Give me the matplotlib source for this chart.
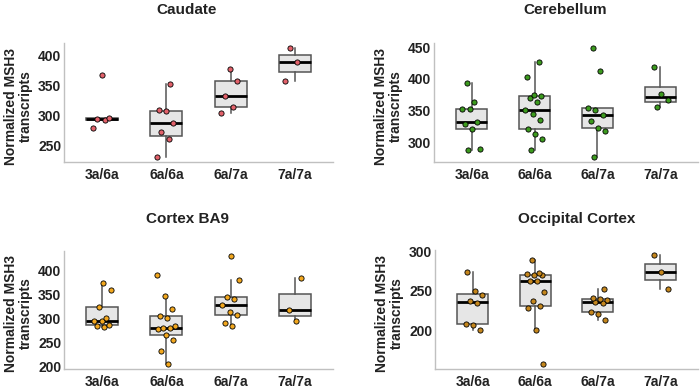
import numpy as np
import matplotlib
matplotlib.use("Agg")
import matplotlib.pyplot as plt

plt.rcParams['font.family'] = ['Liberation Sans', 'DejaVu Sans']
plt.rcParams['font.weight'] = 'bold'

genotypes = ["3a/6a", "6a/6a", "6a/7a", "7a/7a"]

# values, one list per genotype
caudate = [
    [278, 292, 294, 296, 367],
    [231, 260, 272, 287, 307, 308, 352],
    [304, 314, 331, 357, 376],
    [356, 389, 411],
]
cerebellum = [
    [288, 289, 321, 329, 332, 352, 353, 363, 394],
    [288, 305, 312, 321, 335, 344, 351, 364, 369, 373, 375, 403, 426],
    [277, 318, 322, 334, 343, 350, 354, 413, 448],
    [355, 366, 376, 418],
]
cortex_ba9 = [
    [282, 283, 285, 293, 295, 300, 324, 359, 374],
    [205, 231, 254, 264, 277, 279, 280, 284, 300, 304, 320, 347, 391],
    [284, 290, 306, 313, 328, 340, 345, 380, 429],
    [294, 316, 383],
]
occipital = [
    [201, 207, 208, 235, 237, 245, 250, 274],
    [158, 201, 229, 231, 237, 249, 263, 263, 270, 270, 271, 273, 289],
    [213, 221, 223, 235, 236, 239, 240, 241, 252],
    [253, 274, 295],
]

panels = [
    ("Caudate", caudate, "#e2616a", [250, 300, 350, 400]),
    ("Cerebellum", cerebellum, "#3c9a1e", [300, 350, 400, 450]),
    ("Cortex BA9", cortex_ba9, "#f2a71e", [200, 250, 300, 350, 400]),
    ("Occipital Cortex", occipital, "#c4861d", [200, 250, 300]),
]

# axes boxes in pixels: left, top, right, bottom
W, H = 700, 390
boxes = [(64, 43, 333, 162), (434, 43, 698, 162),
         (64, 251, 333, 369), (435, 250, 698, 369)]
title_pos = [(187, 10), (565, 10), (188, 219), (577, 219)]

fig = plt.figure(figsize=(7, 3.9), dpi=100)

for k, (name, groups, col, ticks) in enumerate(panels):
    l, t, r, b = boxes[k]
    ax = fig.add_axes([l / W, 1 - b / H, (r - l) / W, (b - t) / H])
    pos = np.arange(1, len(groups) + 1)
    ax.boxplot(groups, positions=pos, widths=0.5, patch_artist=True,
               showfliers=False, showcaps=False,
               boxprops=dict(facecolor="#e6e6e6", edgecolor="#555555", linewidth=1.1),
               whiskerprops=dict(color="#555555", linewidth=1.1),
               medianprops=dict(color="black", linewidth=2.0))
    for i, g in enumerate(groups):
        n = len(g)
        jit = ((np.arange(n) * 0.618034 + 0.3 * k) % 1 - 0.5) * 0.3
        ax.scatter(pos[i] + jit, g, s=14, color=col, edgecolor="black",
                   linewidth=0.6, zorder=5)
    allv = np.concatenate([np.array(g) for g in groups])
    pad = (allv.max() - allv.min()) * 0.05
    ax.set_ylim(allv.min() - pad, allv.max() + pad)
    ax.set_xlim(0.4, len(groups) + 0.6)
    ax.set_yticks(ticks)
    ax.set_xticks(pos)
    ax.set_xticklabels(genotypes)
    ax.tick_params(length=0, labelsize=10, labelcolor="#222222")
    ax.tick_params(axis="y", pad=2)
    ax.tick_params(axis="x", pad=4)
    for s in ["top", "right"]:
        ax.spines[s].set_visible(False)
    for s in ["left", "bottom"]:
        ax.spines[s].set_color("#c0c0c0")
        ax.spines[s].set_linewidth(1.0)
    ax.set_ylabel("Normalized MSH3\ntranscripts", fontsize=10, fontweight="bold",
                  linespacing=1.1, color="#222222")
    ax.yaxis.set_label_coords(-31 / (r - l), 0.47)
    tx, ty = title_pos[k]
    fig.text(tx / W, 1 - ty / H, name, ha="center", va="center",
             fontsize=11, fontweight="bold", color="#222222")

fig.savefig("out.png", dpi=100)
